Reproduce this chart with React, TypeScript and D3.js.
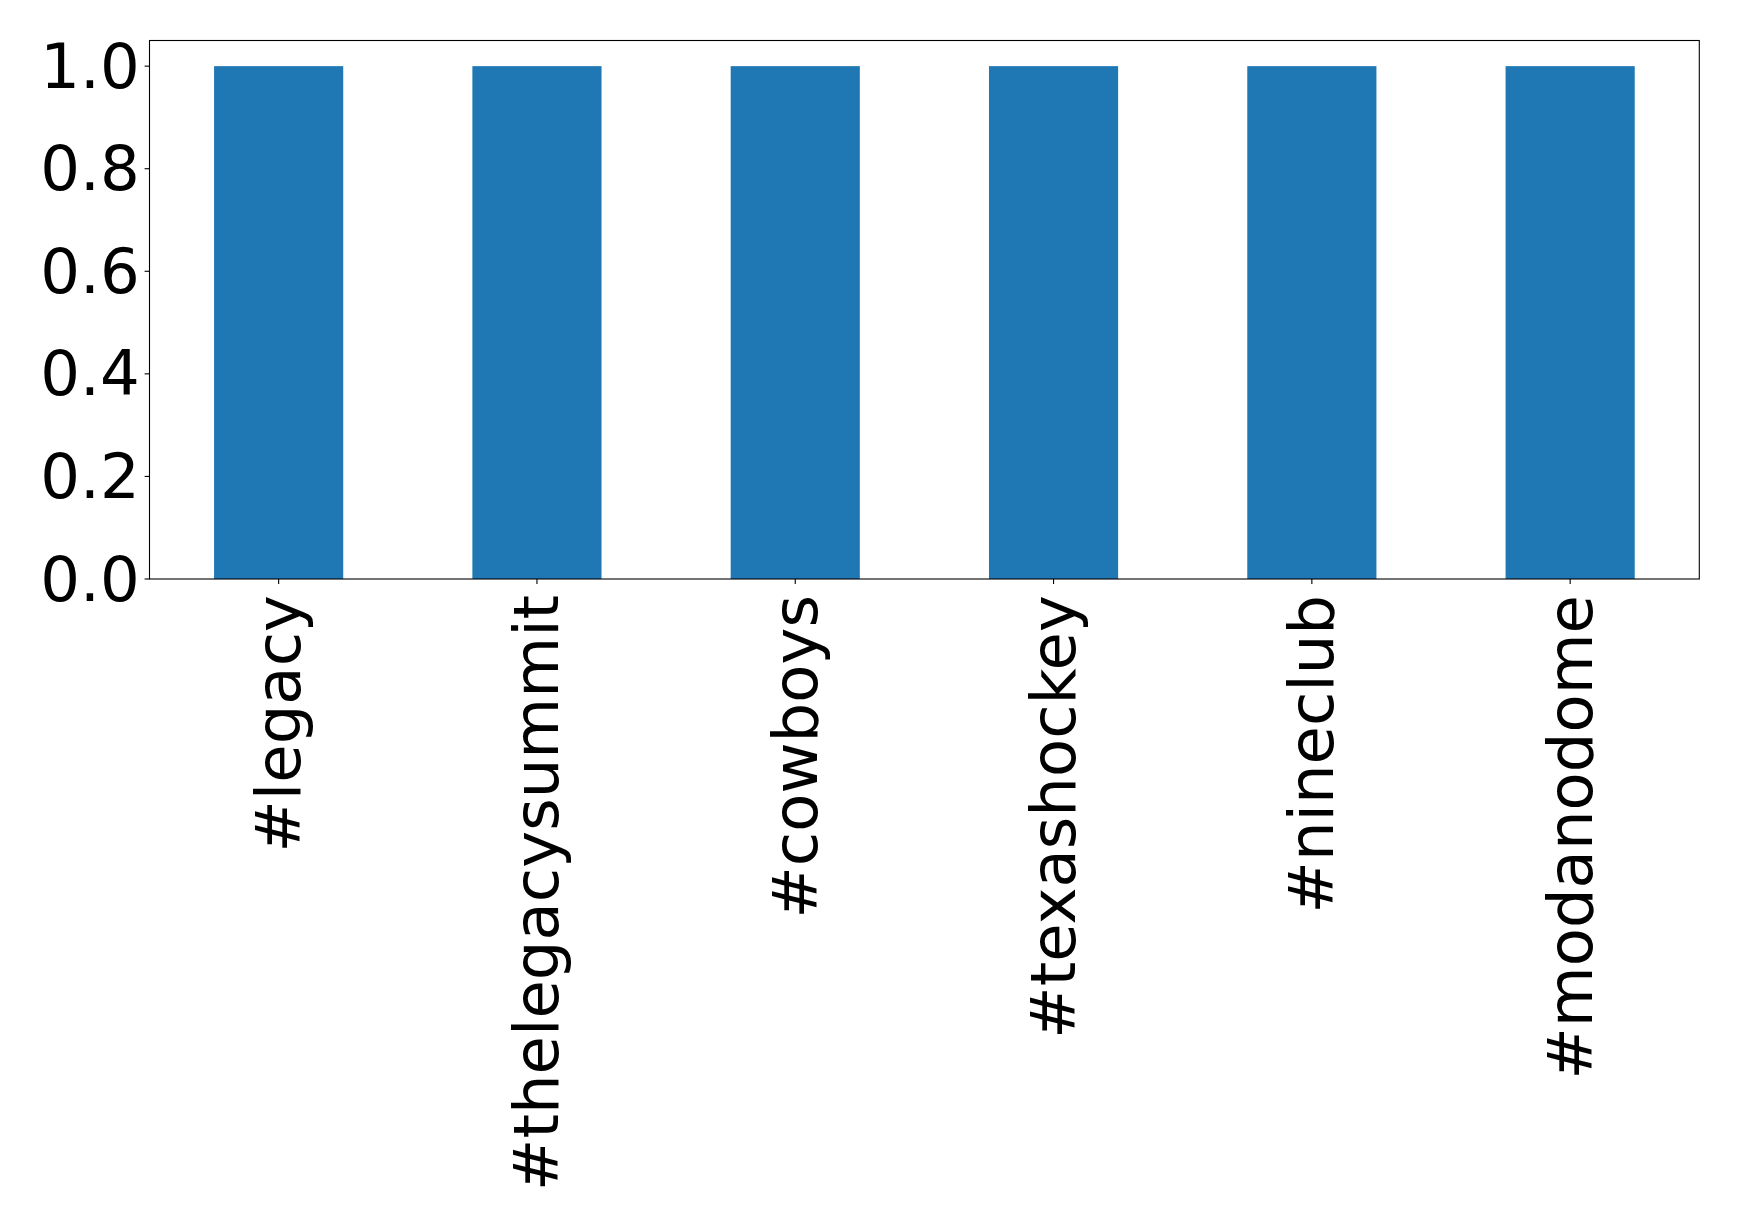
import React, { useEffect } from "react";
import * as d3 from "d3";

const categories = ["#legacy", "#thelegacysummit", "#cowboys", "#texashockey", "#nineclub", "#modanodome"];
const values = [1, 1, 1, 1, 1, 1];
const yTicks = [0, 0.2, 0.4, 0.6, 0.8, 1.0];

const W = 1739;
const H = 1224;
const M = { left: 149.5, right: 1699.3, top: 40.5, bottom: 579 };
const FONT = "'DejaVu Sans', sans-serif";
const FS = 62.5;

export default function App() {
  useEffect(() => {
    document.body.style.margin = "0";
  }, []);

  const x = d3.scaleLinear().domain([-0.5, categories.length - 0.5]).range([M.left, M.right]);
  const y = d3.scaleLinear().domain([0, 1.05]).range([M.bottom, M.top]);
  const barW = x(0.25) - x(-0.25);

  return (
    <svg width={W} height={H} style={{ display: "block", background: "#fff" }}>
      {values.map((v, i) => (
        <rect
          key={i}
          x={x(i) - barW / 2}
          y={y(v)}
          width={barW}
          height={y(0) - y(v)}
          fill="#1f77b4"
        />
      ))}
      <rect
        x={M.left}
        y={M.top}
        width={M.right - M.left}
        height={M.bottom - M.top}
        fill="none"
        stroke="#000"
        strokeWidth={1.1}
      />
      {yTicks.map((t) => (
        <g key={t}>
          <line x1={M.left - 4.9} x2={M.left} y1={y(t)} y2={y(t)} stroke="#000" strokeWidth={1.1} />
          <text
            x={M.left - 4.9 - 4.9}
            y={y(t)}
            textAnchor="end"
            dominantBaseline="central"
            fontFamily={FONT}
            fontSize={FS}
            fill="#000"
          >
            {d3.format(".1f")(t)}
          </text>
        </g>
      ))}
      {categories.map((c, i) => (
        <g key={c}>
          <line x1={x(i)} x2={x(i)} y1={M.bottom} y2={M.bottom + 4.9} stroke="#000" strokeWidth={1.1} />
          <text
            transform={`translate(${x(i)},${M.bottom + 16}) rotate(-90)`}
            textAnchor="end"
            dominantBaseline="central"
            fontFamily={FONT}
            fontSize={FS}
            fill="#000"
          >
            {c}
          </text>
        </g>
      ))}
    </svg>
  );
}
